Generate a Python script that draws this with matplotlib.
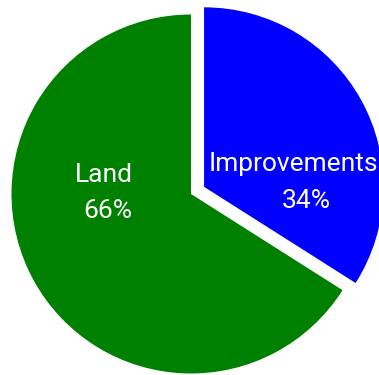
import matplotlib
matplotlib.use("Agg")
import matplotlib.pyplot as plt

# Property value split
categories = ["Improvements", "Land"]
shares = [34, 66]
colors = ["#0000FF", "#008000"]
explode = [0.083, 0.0]

W, H = 379, 375
R = 179.5          # pie radius in pixels
CX, CY = 191, 194  # pie centre in pixels (from top-left)

fig = plt.figure(figsize=(W / 100, H / 100), dpi=100)
ax = fig.add_axes([0, 0, 1, 1])
ax.pie(shares, colors=colors, explode=explode, startangle=90,
       counterclock=False, radius=1.0,
       wedgeprops=dict(linewidth=0, antialiased=True))
ax.set_xlim(-CX / R, (W - CX) / R)
ax.set_ylim(-(H - CY) / R, CY / R)
ax.set_aspect("equal")
ax.axis("off")


def px(x, y):
    return (x - CX) / R, (CY - y) / R


font = dict(family=["Roboto", "Liberation Sans", "DejaVu Sans"],
            fontsize=19, color="white", ha="center", va="baseline")

# label lines: (name line position, percent line position)
label_pos = {
    "Improvements": ((293, 171.5), (306, 208)),
    "Land": ((104, 182), (108, 218)),
}
for name, val in zip(categories, shares):
    (x1, y1), (x2, y2) = label_pos[name]
    ax.text(*px(x1, y1), name, **font)
    ax.text(*px(x2, y2), f"{val}%", **font)

fig.savefig("out.png", dpi=100, facecolor="white")
